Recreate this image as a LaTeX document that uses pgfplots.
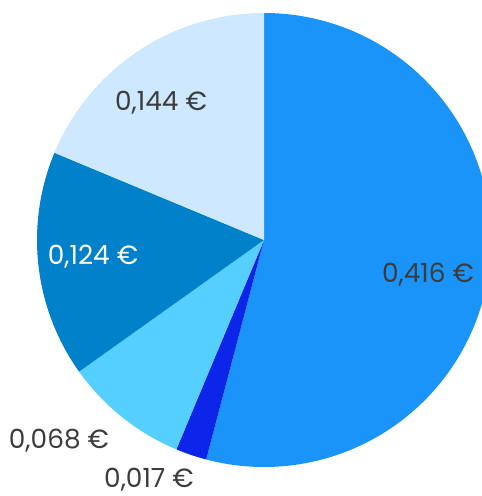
\documentclass[border=0pt]{standalone}
\usepackage{pgfplots}
\pgfplotsset{compat=1.18}
\usepackage{pgfplotstable}
\usepackage{fontspec}
\setmainfont{Poppins}
\definecolor{cA}{HTML}{1A94F8}
\definecolor{cB}{HTML}{0D25E8}
\definecolor{cC}{HTML}{55CFFF}
\definecolor{cD}{HTML}{0281CB}
\definecolor{cE}{HTML}{CDE8FF}
\definecolor{txt}{HTML}{3C3C3C}

% slice values (clockwise from 12 o'clock)
\pgfplotstableread{
value  lab    col  tcol  lx    ly
0.416  0,416  cA   txt   164   -35
0.017  0,017  cB   txt   -115  -240
0.068  0,068  cC   txt   -205  -201
0.124  0,124  cD   white -171  -17
0.144  0,144  cE   txt   -103  137
}\piedata

\begin{document}
\begin{tikzpicture}
\begin{axis}[
    x=0.2mm, y=0.2mm,
    xmin=-264, xmax=217,
    ymin=-256, ymax=240,
    hide axis,
    clip=false,
]
\coordinate (sw) at (rel axis cs:0,0);
\coordinate (ne) at (rel axis cs:1,1);
\pgfplotstablegetrowsof{\piedata}
\pgfmathtruncatemacro\nrows{\pgfplotsretval-1}
\gdef\total{0}
\foreach \i in {0,...,\nrows}{
    \pgfplotstablegetelem{\i}{value}\of\piedata
    \pgfmathsetmacro\t{\total+\pgfplotsretval}
    \xdef\total{\t}
}
\gdef\cum{90}
\foreach \i in {0,...,\nrows}{
    \pgfplotstablegetelem{\i}{value}\of\piedata \edef\v{\pgfplotsretval}
    \pgfplotstablegetelem{\i}{col}\of\piedata \edef\c{\pgfplotsretval}
    \pgfmathsetmacro\aS{\cum}
    \pgfmathsetmacro\aE{\cum-360*\v/\total}
    \edef\temp{\noexpand\fill[\c] (axis cs:0,0) -- (axis cs:{227*cos(\aS)},{227*sin(\aS)}) arc[start angle=\aS, end angle=\aE, radius=45.4mm] -- cycle;}
    \temp
    \xdef\cum{\aE}
}
\foreach \i in {0,...,\nrows}{
    \pgfplotstablegetelem{\i}{lab}\of\piedata \edef\lb{\pgfplotsretval}
    \pgfplotstablegetelem{\i}{tcol}\of\piedata \edef\tc{\pgfplotsretval}
    \pgfplotstablegetelem{\i}{lx}\of\piedata \edef\lx{\pgfplotsretval}
    \pgfplotstablegetelem{\i}{ly}\of\piedata \edef\ly{\pgfplotsretval}
    \edef\temp{\noexpand\node[text=\tc, inner sep=0pt, font=\noexpand\fontsize{15}{17}\noexpand\selectfont] at (axis cs:\lx,\ly) {\lb~€};}
    \temp
}
\end{axis}
\pgfresetboundingbox
\path[use as bounding box] (sw) rectangle (ne);
\end{tikzpicture}
\end{document}
